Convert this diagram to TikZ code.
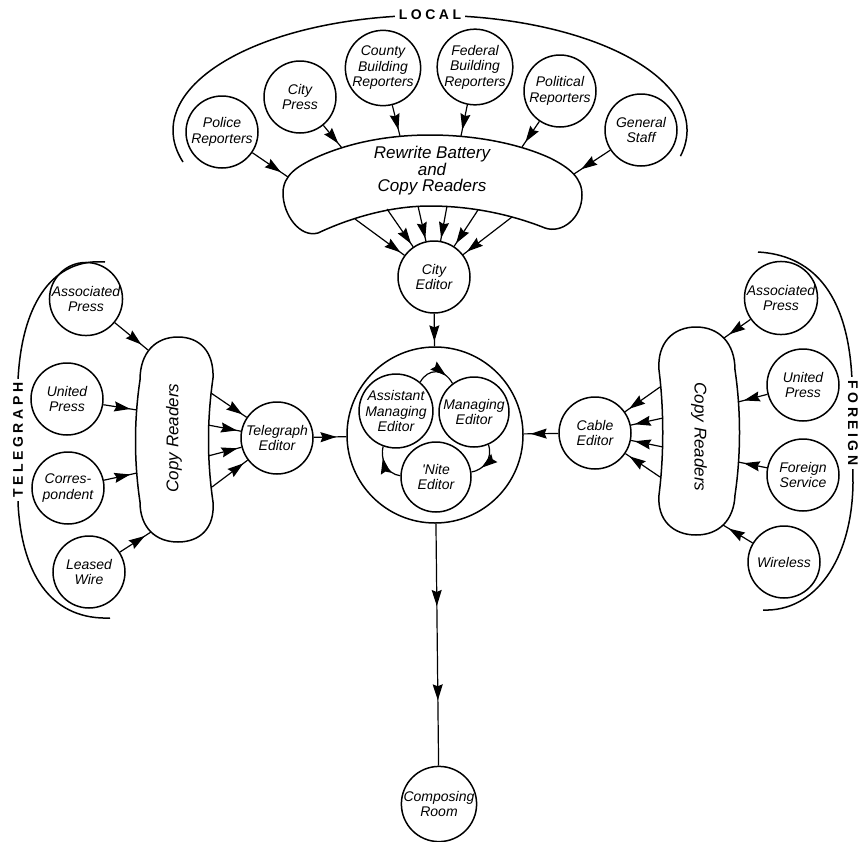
\documentclass[tikz,border=0pt]{standalone}
\usepackage{fontspec}
\setmainfont{Liberation Sans}
\newfontfamily\handfont{Liberation Sans}
\newfontfamily\capsfont[LetterSpace=25]{Liberation Sans}
\usetikzlibrary{arrows.meta, decorations.markings}
\newcommand{\handtext}{\handfont\itshape\fontsize{14}{15.5}\selectfont}
\newcommand{\bigtext}{\handfont\itshape\fontsize{17}{16.5}\selectfont}
\newcommand{\capstext}{\capsfont\bfseries\fontsize{14}{14}\selectfont}

\begin{document}
\begin{tikzpicture}[>={Stealth[length=16pt,width=10pt,inset=2pt]}, x=1pt, y=-1pt,
    station/.style={circle, draw, line width=1.5pt, minimum size=72pt, inner sep=0pt, align=center, font=\handtext},
    band/.style={draw, line width=1.5pt},
    feed/.style={line width=1.2pt, postaction={decorate}, decoration={markings, mark=at position #1 with {\arrow{>}}}},
    feed/.default=0.8,
    twofeed/.style={line width=1.2pt, postaction={decorate}, decoration={markings, mark=at position 0.34 with {\arrow{>}}, mark=at position 0.73 with {\arrow{>}}}},
    heading/.style={fill=white, inner sep=4pt, font=\capstext}]
    \useasboundingbox (0,0) rectangle (862,841);

    % local
    \draw[band] (183,162) arc[start angle=164, end angle=373, x radius=257, y radius=115];
    \node[heading] (local) at (430,15) {LOCAL};
    \node[station] (police) at (222,132) {Police\\Reporters};
    \node[station] (citypress) at (300,97) {City\\Press};
    \node[station] (county) at (383,68) {County\\Building\\Reporters};
    \node[station] (federal) at (475,67) {Federal\\Building\\Reporters};
    \node[station] (political) at (560,91) {Political\\Reporters};
    \node[station] (staff) at (641,130) {General\\Staff};

    \draw[band] (283,193) .. controls (283,175) and (298,166) .. (315,158)
        .. controls (350,142) and (390,135) .. (430,135)
        .. controls (470,135) and (515,142) .. (550,158)
        .. controls (570,168) and (582,178) .. (582,195)
        .. controls (582,218) and (562,234) .. (545,228)
        .. controls (510,214) and (470,206) .. (430,206)
        .. controls (390,206) and (350,218) .. (318,233)
        .. controls (300,238) and (283,215) .. (283,193) -- cycle;
    \node[font=\bigtext, align=center] (rewrite) at (432,171) {Rewrite Battery\\and\\Copy Readers};
    \coordinate (rw-in1) at (288,177);
    \coordinate (rw-in2) at (342,148);
    \coordinate (rw-in3) at (400,136);
    \coordinate (rw-in4) at (461,136);
    \coordinate (rw-in5) at (522,147);
    \coordinate (rw-in6) at (574,174);
    \coordinate (rw-out1) at (355,219);
    \coordinate (rw-out2) at (387,209);
    \coordinate (rw-out3) at (418,206);
    \coordinate (rw-out4) at (447,206);
    \coordinate (rw-out5) at (478,210);
    \coordinate (rw-out6) at (512,217);

    \node[station] (cityed) at (434,277) {City\\Editor};

    \foreach \src/\i in {police/1, citypress/2, county/3, federal/4, political/5, staff/6}
        \draw[feed=0.8] (\src) -- (rw-in\i);
    \foreach \i in {1,...,6}
        \draw[feed=0.92] (rw-out\i) -- (cityed);

    % telegraph
    \draw[band] (105,262) .. controls (55,258) and (22,300) .. (18,380) -- (18,503) .. controls (22,580) and (55,620) .. (110,618);
    \node[heading, rotate=90] (telegraph) at (18,440) {TELEGRAPH};
    \node[station] (tassoc) at (86,299) {Associated\\Press};
    \node[station] (tunited) at (67,399) {United\\Press};
    \node[station] (corresp) at (68,488) {Corres-\\pondent};
    \node[station] (leased) at (89,572) {Leased\\Wire};

    \draw[band] (140,380) .. controls (140,352) and (156,337) .. (178,337)
        .. controls (200,337) and (214,352) .. (213,378)
        .. controls (207,420) and (207,460) .. (213,502)
        .. controls (215,528) and (200,542) .. (178,542)
        .. controls (156,542) and (140,528) .. (140,502)
        .. controls (134,462) and (134,420) .. (140,380) -- cycle;
    \node[font=\bigtext, rotate=90] (tcopy) at (174,438) {Copy Readers};
    \coordinate (tc-in1) at (148,350);
    \coordinate (tc-in2) at (137,410);
    \coordinate (tc-in3) at (137,473);
    \coordinate (tc-in4) at (151,532);
    \coordinate (tc-out1) at (211,393);
    \coordinate (tc-out2) at (208,425);
    \coordinate (tc-out3) at (208,456);
    \coordinate (tc-out4) at (212,487);

    \node[station] (teled) at (277,438) {Telegraph\\Editor};

    \foreach \src/\i in {tassoc/1, tunited/2, corresp/3, leased/4}
        \draw[feed=0.8] (\src) -- (tc-in\i);
    \foreach \i in {1,...,4}
        \draw[feed=0.88] (tc-out\i) -- (teled);

    % foreign
    \draw[band] (758,252) .. controls (810,255) and (848,290) .. (852,380) -- (853,483) .. controls (852,560) and (815,612) .. (763,610);
    \node[heading, rotate=-90] (foreign) at (853,423) {FOREIGN};
    \node[station] (fassoc) at (781,298) {Associated\\Press};
    \node[station] (funited) at (803,385) {United\\Press};
    \node[station] (fservice) at (803,475) {Foreign\\Service};
    \node[station] (wireless) at (784,562) {Wireless};

    \draw[band] (659,370) .. controls (657,343) and (673,327) .. (696,327)
        .. controls (719,327) and (735,343) .. (735,370)
        .. controls (741,410) and (741,455) .. (735,495)
        .. controls (734,520) and (719,535) .. (696,535)
        .. controls (673,535) and (657,520) .. (659,495)
        .. controls (664,455) and (664,410) .. (659,370) -- cycle;
    \node[font=\bigtext, rotate=-90] (fcopy) at (699,437) {Copy Readers};
    \coordinate (fc-in1) at (724,338);
    \coordinate (fc-in2) at (738,402);
    \coordinate (fc-in3) at (738,462);
    \coordinate (fc-in4) at (723,525);
    \coordinate (fc-out1) at (660,387);
    \coordinate (fc-out2) at (663,418);
    \coordinate (fc-out3) at (663,447);
    \coordinate (fc-out4) at (660,477);

    \node[station] (cabled) at (595,433) {Cable\\Editor};

    \foreach \src/\i in {fassoc/1, funited/2, fservice/3, wireless/4}
        \draw[feed=0.8] (\src) -- (fc-in\i);
    \foreach \i in {1,...,4}
        \draw[feed=0.88] (fc-out\i) -- (cabled);

    % editors
    \node[circle, draw, line width=1.5pt, minimum size=176pt] (main) at (435,435) {};
    \node[station, minimum size=70pt] (asst) at (396,411) {Assistant\\Managing\\Editor};
    \node[station, minimum size=70pt] (mng) at (474,412) {Managing\\Editor};
    \node[station, minimum size=70pt] (nite) at (436,477) {'Nite\\Editor};
    \draw[feed=0.75] (asst.50) .. controls (428,368) and (444,368) .. (mng.127);
    \draw[feed=0.7] (mng.-66) .. controls (493,458) and (484,470) .. (nite.8);
    \draw[feed=0.7] (nite.178) .. controls (386,474) and (380,458) .. (asst.250);

    \draw[feed=0.85] (cityed) -- (main);
    \draw[feed=0.7] (teled) -- (main);
    \draw[feed=0.8] (cabled) -- (main);

    \node[station, minimum size=70pt] (compose) at (439,804) {Composing\\Room};
    \draw[twofeed] (main) -- (compose);
\end{tikzpicture}
\end{document}
